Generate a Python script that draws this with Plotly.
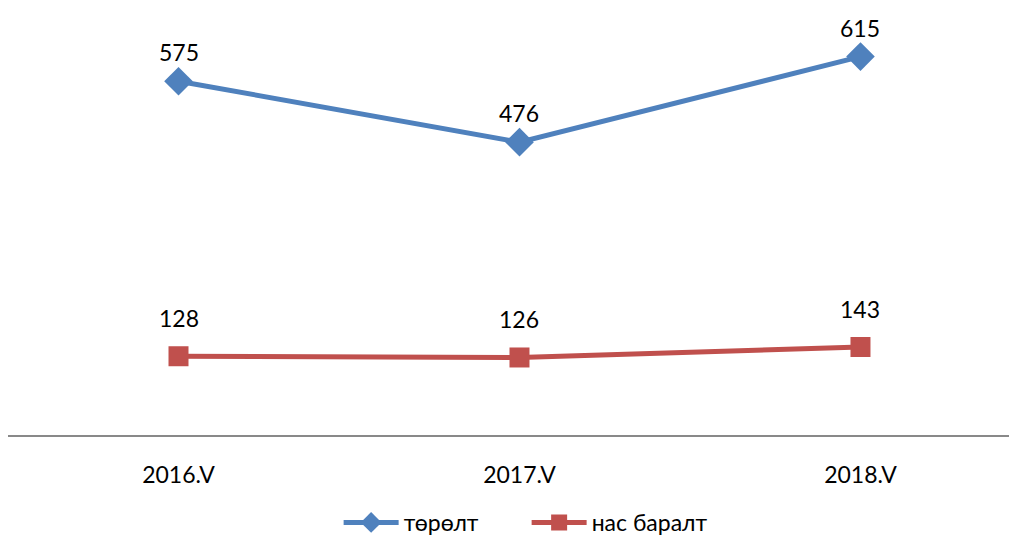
import plotly.graph_objects as go

years = ["2016.V", "2017.V", "2018.V"]
births = [575, 476, 615]
deaths = [128, 126, 143]

FONT = "Lato, Carlito, Calibri, sans-serif"
BLUE = "#4F81BD"
RED = "#C0504D"

fig = go.Figure()
fig.add_trace(go.Scatter(x=years, y=births, name="төрөлт", mode="lines+markers",
                         line=dict(color=BLUE, width=5),
                         marker=dict(symbol="diamond", size=22, color=BLUE)))
fig.add_trace(go.Scatter(x=years, y=deaths, name="нас баралт", mode="lines+markers",
                         line=dict(color=RED, width=5),
                         marker=dict(symbol="square", size=20, color=RED)))

# value labels above the points
for vals, shift in [(births, 29), (deaths, 38)]:
    for x, v in zip(years, vals):
        fig.add_annotation(x=x, y=v, text=str(v), showarrow=False, yshift=shift,
                           yanchor="middle", font=dict(size=23, color="black", family=FONT))

fig.update_layout(
    width=1009, height=536,
    margin=dict(l=0, r=0, t=0, b=102),
    plot_bgcolor="white", paper_bgcolor="white",
    font=dict(family=FONT, size=22, color="black"),
    legend=dict(orientation="h", x=0.514, xanchor="center", y=-0.205, yanchor="middle",
                font=dict(size=23), traceorder="normal", itemwidth=55, entrywidth=118),
    showlegend=True,
)
fig.update_xaxes(type="category", range=[-0.5, 2.459], showgrid=False, showline=True,
                 linecolor="#898989", linewidth=2, ticks="", ticklabelstandoff=18,
                 tickfont=dict(size=23))
fig.update_yaxes(range=[0, 694], visible=False)

fig.write_html("out.html")
